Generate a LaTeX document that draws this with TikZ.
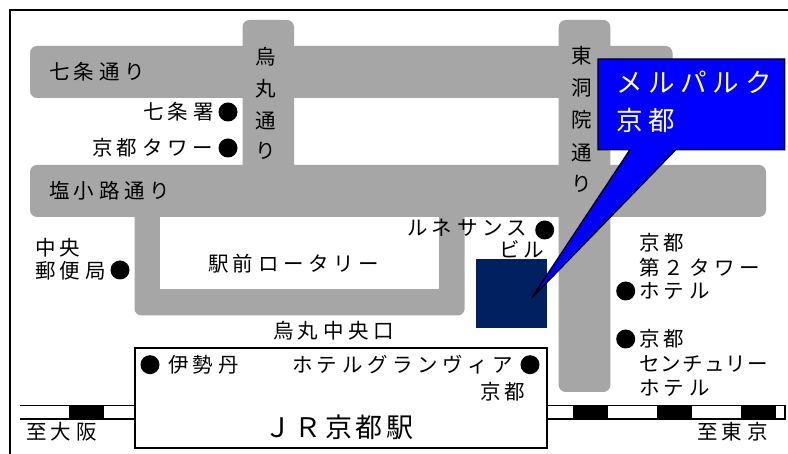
\documentclass[tikz,border=0pt]{standalone}
\usepackage{fontspec}
\newfontfamily\jpa[LetterSpace=22]{Noto Sans CJK JP}
\newfontfamily\jpb[LetterSpace=12]{Noto Sans CJK JP}
\newfontfamily\jpc[LetterSpace=6]{Noto Sans CJK JP}
\newfontfamily\jpd[LetterSpace=13]{Noto Sans CJK JP}
\tikzset{
  road/.style={fill=roadgray,draw=none,rounded corners=7pt},
  lab/.style={anchor=west,inner sep=0pt,outer sep=0pt,text=black,font=\fontsize{20.5}{20.5}\jpa},
  vlab/.style={anchor=center,inner sep=0pt,outer sep=0pt,font=\fontsize{20.5}{20.5}\jpb},
  big/.style={lab,text=white,font=\fontsize{26.5}{26.5}\jpa},
  dot/.style={circle,fill=black,draw=none,minimum size=19pt,inner sep=0pt},
  track/.style={draw=black,line width=1.6pt,fill=white},
  block/.style={fill=black,draw=none}
}
\definecolor{roadgray}{HTML}{A6A6A6}
\definecolor{navy}{HTML}{002060}
\definecolor{callout}{HTML}{0000FF}
\begin{document}
\begin{tikzpicture}[x=1pt,y=-1pt]
\useasboundingbox (0,0) rectangle (788,454);
\fill[white] (0,0) rectangle (788,454);
% frame
\draw[line width=2pt] (10,454) -- (10,10) -- (788,10);
% roads
\fill[road] (242.5,20) rectangle (294,175);
\fill[road] (558.7,20) rectangle (610.3,392);
\fill[road] (30,46) rectangle (672.5,98);
\fill[road] (134.5,200) rectangle (464.7,315.5);
\fill[white] (160,217) rectangle (439,289.3);
\fill[road] (30,165) rectangle (766,217);
% building
\fill[navy] (476,259) rectangle (547,327.7);
% tracks
\draw[line width=1.6pt] (20,405.5) -- (134.5,405.5) (20,419) -- (134.5,419);
\fill[block] (68.5,405) rectangle (104,419.5);
\draw[track] (547,405.5) -- (784.7,405.5) -- (784.7,419) -- (547,419);
\fill[block] (573,405) rectangle (608,419.5);
\fill[block] (656.7,405) rectangle (691.7,419.5);
\fill[block] (740.7,405) rectangle (775.7,419.5);
% station
\draw[line width=2pt,fill=white] (134.5,348) rectangle (546.7,448);
% callout
\draw[line width=1.4pt,fill=callout,line join=miter]
  (598,59) -- (784.7,59) -- (784.7,149.7) -- (675.7,149.7) -- (531.7,298) -- (630,149.7) -- (598,149.7) -- cycle;
% dots
\node[dot] (d1) at (228,112) {};
\node[dot] (d2) at (228,148) {};
\node[dot] (d3) at (120,270) {};
\node[dot] (d4) at (150,364.7) {};
\node[dot] (d5) at (530,364.7) {};
\node[dot] (d6) at (544.7,230) {};
\node[dot] (d7) at (625.7,291) {};
\node[dot] (d8) at (625.7,339) {};
% labels
\node[lab] (t1) at (49,72) {七条通り};
\node[lab] (t2) at (143,112) {七条署};
\node[lab] (t3) at (92,148) {京都タワー};
\node[lab] (t4) at (49,191) {塩小路通り};
\node[lab] (t5) at (35,248) {中央};
\node[lab] (t6) at (35,271) {郵便局};
\node[lab] (t7) at (208,264) {駅前ロータリー};
\node[lab] (t8) at (273,331) {烏丸中央口};
\node[lab] (t9) at (168,365) {伊勢丹};
\node[lab] (t10) at (292,365) {ホテルグランヴィア};
\node[lab] (t11) at (480,392) {京都};
\node[lab,font=\fontsize{27}{27}\jpd] (t12) at (264,427) {ＪＲ京都駅};
\node[lab] (t13) at (26,432) {至大阪};
\node[lab] (t14) at (697,432) {至東京};
\node[lab] (t15) at (407,228) {ルネサンス};
\node[lab] (t16) at (499,249) {ビル};
\node[lab] (t17) at (639,243) {京都};
\node[lab] (t18) at (639,268) {第２タワー};
\node[lab] (t19) at (639,291) {ホテル};
\node[lab] (t20) at (639,339) {京都};
\node[lab,font=\fontsize{20.5}{20.5}\jpc] (t21) at (639,364) {センチュリー};
\node[lab] (t22) at (639,388) {ホテル};
\node[big] (t23) at (616,82) {メルパルク};
\node[big] (t24) at (616,120) {京都};
\foreach \c/\y/\n in {烏/57/a,丸/89/b,通/121/c,り/151/d}
  \node[vlab] (u\n) at (266,\y) {\c};
\foreach \c/\y/\n in {東/56/a,洞/88/b,院/120/c,通/153/d,り/184/e}
  \node[vlab] (v\n) at (582,\y) {\c};
\end{tikzpicture}
\end{document}
